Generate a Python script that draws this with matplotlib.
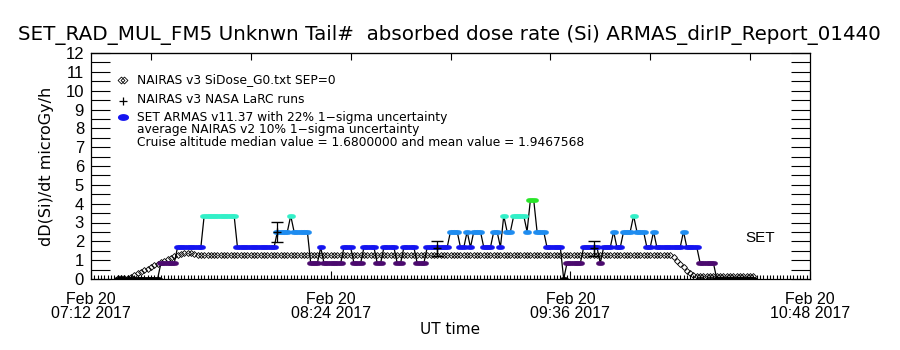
import numpy as np
import pandas as pd
import matplotlib
matplotlib.use("Agg")
import matplotlib.pyplot as plt
import matplotlib.dates as mdates
from matplotlib.ticker import MultipleLocator, FixedLocator

#############
## Data    ##
#############
day = "2017-02-20 "

# SET ARMAS dose rate, quantized levels (microGy/h) and their colours
set_levels = [0.0, 0.84, 1.68, 2.52, 3.36, 4.2]
level_colors = ["black", "#4b0a6e", "#1414f0", "#1e8cf0", "#32f0c8", "#28e628"]

# runs of 1-min samples: start, end (inclusive), level index
set_start = ["07:20", "07:33", "07:38", "07:46", "07:56", "08:08", "08:12", "08:13", "08:18", "08:21",
             "08:22", "08:28", "08:31", "08:34", "08:38", "08:40", "08:44", "08:46", "08:50", "08:53",
             "09:00", "09:03", "09:05", "09:06", "09:07", "09:10", "09:13", "09:15", "09:16", "09:17",
             "09:19", "09:23", "09:24", "09:26", "09:29", "09:34", "09:35", "09:40", "09:45", "09:46",
             "09:49", "09:50", "09:52", "09:55", "09:56", "09:59", "10:01", "10:02", "10:10", "10:11",
             "10:15", "10:20"]
set_end = ["07:32", "07:37", "07:45", "07:55", "08:07", "08:11", "08:12", "08:17", "08:20", "08:21",
           "08:27", "08:30", "08:33", "08:37", "08:39", "08:43", "08:45", "08:49", "08:52", "08:59",
           "09:02", "09:04", "09:05", "09:06", "09:09", "09:12", "09:14", "09:15", "09:16", "09:18",
           "09:22", "09:23", "09:25", "09:28", "09:33", "09:34", "09:39", "09:44", "09:45", "09:48",
           "09:49", "09:51", "09:54", "09:55", "09:58", "10:00", "10:01", "10:09", "10:10", "10:14",
           "10:19", "10:31"]
set_level = [0, 1, 2, 4, 2, 3, 4, 3, 1, 2,
             1, 2, 1, 2, 1, 2, 1, 2, 1, 2,
             3, 2, 3, 2, 3, 2, 3, 2, 4, 3,
             4, 3, 5, 3, 2, 0, 1, 2, 1, 2,
             3, 2, 3, 4, 3, 2, 3, 2, 3, 2,
             1, 0]

# NAIRAS v3 model, one value per minute from 07:20
model_start = "07:20"
model_vals = ([0.05] * 4
              + [0.13, 0.22, 0.30, 0.38, 0.47, 0.55, 0.63, 0.72, 0.80, 0.88, 0.97, 1.05, 1.13, 1.22, 1.30]
              + [1.34, 1.38, 1.40, 1.38, 1.34]
              + [1.30] * 143
              + [1.15, 0.98, 0.80, 0.62, 0.45, 0.30, 0.20]
              + [0.15] * 18)

# NAIRAS v3 NASA LaRC runs
larc_times = ["08:08", "08:56", "09:43"]
larc_vals = [2.50, 1.62, 1.62]
larc_lo = [1.96, 1.22, 1.22]
larc_hi = [3.03, 2.03, 2.03]

xtick_times = ["07:12", "08:24", "09:36", "10:48"]

title = "SET_RAD_MUL_FM5 Unknwn Tail#  absorbed dose rate (Si) ARMAS_dirIP_Report_01440"
legend_lines = ["NAIRAS v3 SiDose_G0.txt SEP=0",
                "NAIRAS v3 NASA LaRC runs",
                "SET ARMAS v11.37 with 22% 1\u2212sigma uncertainty",
                "average NAIRAS v2 10% 1\u2212sigma uncertainty",
                "Cruise altitude median value = 1.6800000 and mean value = 1.9467568"]


def t(s):
    return pd.Timestamp(day + s)


##############
## Expand   ##
##############
set_t = []
set_v = []
set_c = []
for s, e, lv in zip(set_start, set_end, set_level):
    for tt in pd.date_range(t(s), t(e), freq="1min"):
        set_t.append(tt)
        set_v.append(set_levels[lv])
        set_c.append(lv)
set_t = np.array(set_t)
set_v = np.array(set_v)
set_c = np.array(set_c)

model_t = pd.date_range(t(model_start), periods=len(model_vals), freq="1min")

##############
## Plotting ##
##############
plt.rcParams["font.family"] = ["DejaVu Sans"]
tickfont = ["Liberation Sans", "DejaVu Sans"]

fig = plt.figure(figsize=(9, 3.5), dpi=100)
ax = fig.add_axes([91 / 900, 1 - 279 / 350, 719 / 900, 226 / 350])

theta = np.linspace(0, 2 * np.pi, 30)
ellipse = np.column_stack([1.8 * np.cos(theta), np.sin(theta)])

ax.plot(model_t, model_vals, ls="none", marker="D", ms=3.0, mfc="none", mec="black", mew=0.6)
ax.plot(set_t, set_v, color="black", lw=0.9)
for lv in range(len(set_levels)):
    m = set_c == lv
    ax.plot(set_t[m], set_v[m], ls="none", marker=ellipse, ms=6.0,
            color=level_colors[lv], mec=level_colors[lv], mew=0.3)

lt = [t(s) for s in larc_times]
yerr = [np.array(larc_vals) - np.array(larc_lo), np.array(larc_hi) - np.array(larc_vals)]
ax.errorbar(lt, larc_vals, yerr=yerr, fmt="+", color="black", ms=6, lw=0.9, capsize=4)

ax.text(t("10:33"), 2.2, "SET", fontsize=11, ha="center", va="center", family=tickfont)

ax.set_xlim(t("07:12"), t("10:48"))
ax.set_ylim(0, 12)

ax.xaxis.set_major_locator(FixedLocator([mdates.date2num(t(s)) for s in xtick_times]))
ax.xaxis.set_major_formatter(mdates.DateFormatter("Feb 20\n%H:%M 2017"))
ax.xaxis.set_minor_locator(mdates.MinuteLocator(interval=1))
ax.yaxis.set_major_locator(MultipleLocator(1))
ax.yaxis.set_minor_locator(MultipleLocator(0.5))

ax.tick_params(axis="x", which="major", direction="in", length=6, width=0.8, top=False,
               labelsize=11.5, pad=9)
ax.tick_params(axis="x", which="minor", direction="in", length=3, width=0.8, top=False)
ax.tick_params(axis="y", which="both", direction="in", length=14, width=0.8, right=True,
               labelsize=12, pad=5)
for lab in ax.get_xticklabels() + ax.get_yticklabels():
    lab.set_family(tickfont)
    lab.set_linespacing(0.95)

top = ax.secondary_xaxis("top")
top.xaxis.set_major_locator(mdates.MinuteLocator(byminute=[0, 30]))
top.tick_params(direction="in", length=5, width=0.8, labeltop=False)

for sp in ax.spines.values():
    sp.set_linewidth(0.9)

ax.set_xlabel("UT time", fontsize=11, labelpad=1)
ax.set_ylabel("dD(Si)/dt microGy/h", fontsize=11.5, labelpad=8)
fig.text(449 / 900, 1 - 35 / 350, title, fontsize=14.3, ha="center", va="center")

# legend drawn by hand
leg_y = [80, 99, 117, 130, 143]
for y, txt in zip(leg_y, legend_lines):
    fig.text(137 / 900, 1 - y / 350, txt, fontsize=8.8, ha="left", va="center")
fig.add_artist(plt.Line2D([121 / 900, 124 / 900], [1 - 80 / 350] * 2, ls="none", marker="D",
                          ms=3.5, mfc="none", mec="black", mew=0.6, transform=fig.transFigure))
fig.add_artist(plt.Line2D([123 / 900], [1 - 101 / 350], ls="none", marker="+", ms=6,
                          color="black", mew=0.9, transform=fig.transFigure))
fig.add_artist(plt.Line2D([123 / 900], [1 - 117 / 350], ls="none", marker=ellipse, ms=7,
                          color="#1414f0", transform=fig.transFigure))

fig.savefig("out.png", dpi=100)
